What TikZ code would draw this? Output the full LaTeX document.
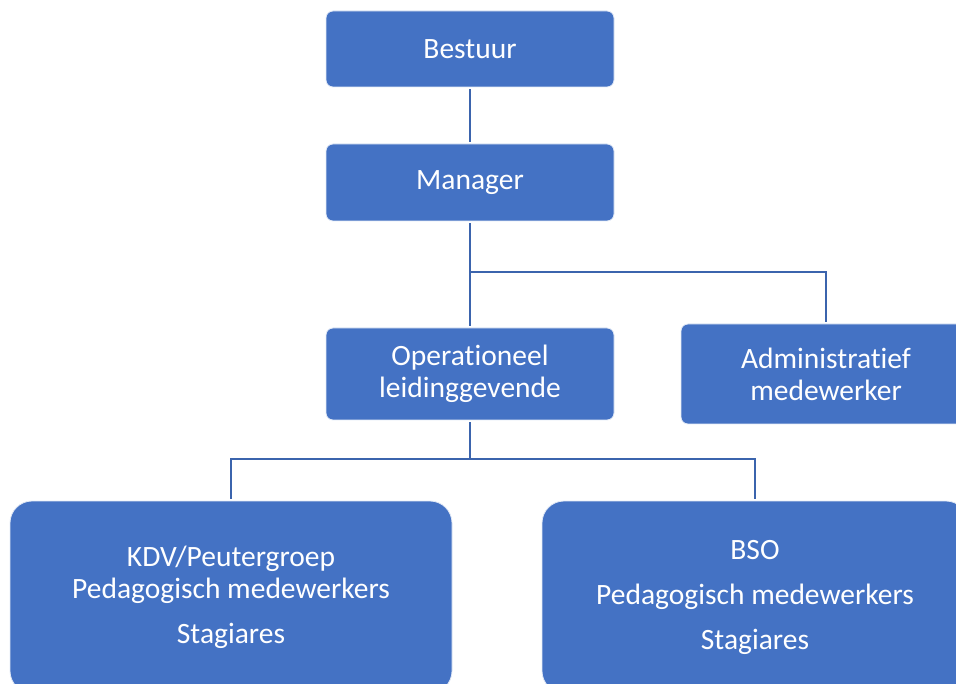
\documentclass[tikz,border=0pt]{standalone}
\usepackage{fontspec}
\setmainfont{Carlito}[Ligatures=NoCommon]
\definecolor{boxblue}{HTML}{4472C4}
\definecolor{lineblue}{HTML}{3B64AD}
\begin{document}
\begin{tikzpicture}[x=1pt,y=-1pt,
  orgbox/.style={fill=boxblue,draw=white!85!boxblue,line width=0.8pt,rounded corners=7pt,
    text=white,align=center,inner sep=0pt,font=\fontsize{29.5}{32}\selectfont},
  bigbox/.style={orgbox,rounded corners=22pt},
  conn/.style={draw=lineblue,line width=2.6pt}]
\useasboundingbox (0,0) rectangle (956,684);
\clip (0,0) rectangle (956,684);
\node[orgbox,minimum width=288pt,minimum height=76pt] (bestuur) at (470,49) {Bestuur};
\node[orgbox,minimum width=288pt,minimum height=77pt] (manager) at (470,182.5) {Manager};
\node[orgbox,minimum width=288pt,minimum height=92pt] (oper) at (470,374) {Operationeel\\leidinggevende};
\node[orgbox,minimum width=290pt,minimum height=100pt] (admin) at (826,374) {Administratief\\medewerker};
\node[bigbox,minimum width=442pt,minimum height=192pt] (kdv) at (231,597) {KDV/Peutergroep\\Pedagogisch medewerkers\\[13pt]Stagiares};
\node[bigbox,minimum width=426pt,minimum height=192pt] (bso) at (755,597) {BSO\\[13pt]Pedagogisch medewerkers\\[13pt]Stagiares};
\coordinate (j1) at (470,272);
\coordinate (j2) at (470,459);
\draw[conn,shorten <=2pt,shorten >=2pt] (bestuur.south) -- (manager.north);
\draw[conn,shorten <=2pt] (manager.south) -- (j1);
\draw[conn,shorten >=2pt] (j1) -- (oper.north);
\draw[conn,shorten >=2pt] (j1) -| (admin.north);
\draw[conn,shorten <=2pt] (oper.south) -- (j2);
\draw[conn,shorten >=2pt] (j2) -| (kdv.north);
\draw[conn,shorten >=2pt] (j2) -| (bso.north);
\end{tikzpicture}
\end{document}
